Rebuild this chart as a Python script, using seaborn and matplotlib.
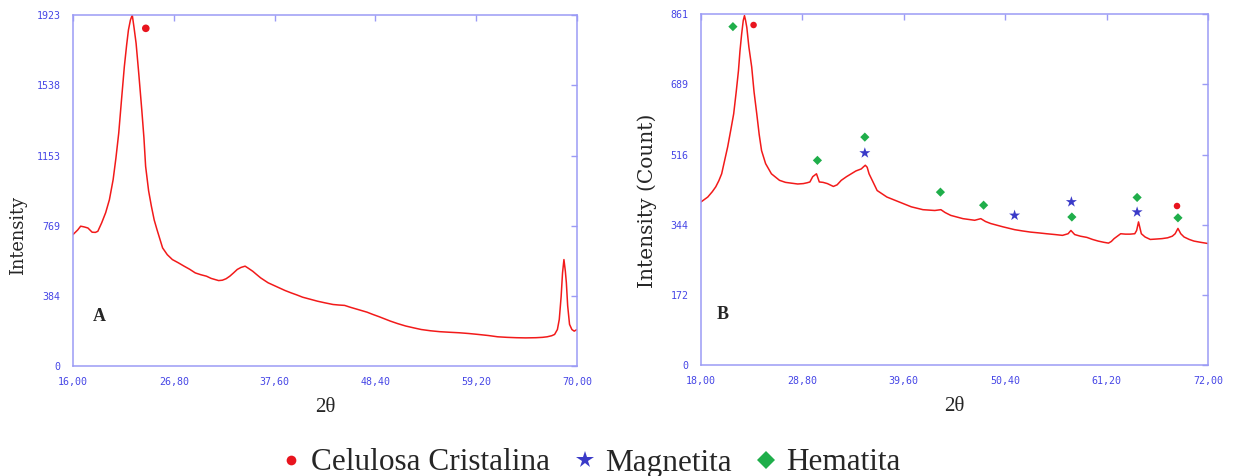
import numpy as np
import pandas as pd
import matplotlib
matplotlib.use("Agg")
import matplotlib.pyplot as plt
from matplotlib.lines import Line2D
import matplotlib.transforms as mtransforms
import seaborn as sns

# ---------------- data ----------------
a_theta = [16.0, 16.5, 16.82, 17.2, 17.6, 18.05, 18.4, 18.66, 19.07, 19.5, 19.9, 20.3, 20.6, 20.9,
           21.2, 21.5, 21.75, 21.94, 22.15, 22.35, 22.55, 22.76, 23.05, 23.37, 23.6, 23.78, 24.1,
           24.4, 24.7, 25.0, 25.6, 26.1, 26.65, 27.3, 27.9, 28.5, 29.1, 29.7, 30.3, 30.8, 31.2, 31.6,
           32.0, 32.4, 32.8, 33.2, 33.6, 34.0, 34.44, 34.8, 35.26, 35.7, 36.1, 36.9, 37.5, 38.1,
           38.7, 39.35, 40.0, 40.6, 41.4, 42.2, 43.0, 43.86, 44.5, 45.1, 45.7, 46.3, 46.9, 47.5,
           48.1, 48.8, 49.4, 50.0, 50.8, 51.65, 52.5, 53.3, 54.3, 55.3, 56.3, 57.4, 58.4, 59.4,
           60.5, 61.5, 62.5, 63.5, 64.5, 65.6, 66.3, 66.8, 67.3, 67.6, 67.9, 68.1, 68.3, 68.45,
           68.6, 68.75, 68.86, 69.0, 69.2, 69.45, 69.7, 70.0]
a_int = [720, 745, 766, 762, 756, 733, 732, 738, 784, 840, 911, 1021, 1140, 1276,
         1460, 1640, 1760, 1841, 1895, 1923, 1850, 1768, 1600, 1403, 1250, 1094, 960,
         875, 800, 747, 647, 610, 583, 565, 547, 530, 510, 500, 492, 480, 474, 468,
         470, 478, 492, 510, 529, 540, 547, 535, 519, 500, 483, 456, 442, 428,
         414, 401, 389, 377, 366, 355, 346, 337, 334, 332, 322, 313, 304, 295,
         283, 270, 258, 246, 232, 219, 209, 200, 193, 188, 185, 182, 178, 173,
         167, 160, 157, 155, 154, 155, 157, 160, 166, 173, 200, 255, 380, 510,
         583, 520, 456, 330, 228, 200, 191, 200]

b_theta = [18.0, 18.72, 19.2, 19.57, 19.9, 20.2, 20.5, 20.84, 21.2, 21.48, 21.75, 21.99, 22.15,
           22.33, 22.5, 22.63, 22.75, 22.88, 23.1, 23.4, 23.65, 23.94, 24.2, 24.45, 24.88, 25.5,
           26.36, 27.0, 27.64, 28.3, 28.9, 29.3, 29.6, 29.9, 30.3, 30.6, 31.0, 31.46, 32.1,
           32.5, 32.94, 33.5, 34.0, 34.5, 35.07, 35.3, 35.5, 35.7, 35.9, 36.3, 36.76, 37.8,
           39.1, 40.4, 41.64, 42.9, 43.55, 44.0, 44.6, 45.9, 47.15, 47.8, 48.3, 48.86, 50.15,
           51.4, 52.2, 53.1, 54.0, 54.8, 55.7, 56.5, 57.1, 57.4, 57.8, 58.4, 59.1, 59.7, 60.3,
           60.9, 61.4, 61.7, 62.0, 62.7, 63.2, 63.7, 64.2, 64.4, 64.6, 64.9, 65.3, 65.85, 66.5,
           67.1, 67.7, 68.2, 68.5, 68.8, 69.1, 69.45, 70.0, 70.5, 71.2, 72.0]
b_int = [400, 412, 425, 437, 452, 469, 500, 535, 580, 616, 670, 722, 770,
         812, 845, 857, 845, 828, 780, 731, 670, 616, 565, 526, 494, 469,
         453, 448, 446, 444, 445, 447, 449, 462, 469, 449, 448, 445, 438,
         442, 453, 462, 469, 476, 481, 486, 490, 485, 469, 450, 428, 412,
         400, 388, 381, 379, 381, 374, 367, 359, 355, 359, 352, 347, 339,
         332, 329, 326, 324, 322, 320, 318, 322, 330, 320, 316, 313, 308, 304,
         301, 299, 303, 310, 322, 321, 321, 322, 330, 351, 322, 314, 308, 309,
         310, 312, 316, 322, 335, 322, 314, 308, 304, 301, 298]

# peak markers (phase identification)
a_cel_x, a_cel_y = [23.8], [1850]
b_cel_x, b_cel_y = [23.6, 68.7], [834, 390]
b_mag_x, b_mag_y = [35.45, 51.4, 57.45, 64.45], [520, 367, 400, 375]
b_hem_x = [21.4, 30.4, 35.45, 43.5, 48.1, 57.5, 64.45, 68.8]
b_hem_y = [830, 502, 559, 424, 392, 363, 411, 361]

a_xticks = [16.0, 26.8, 37.6, 48.4, 59.2, 70.0]
a_yticks = [0, 384, 769, 1153, 1538, 1923]
b_xticks = [18.0, 28.8, 39.6, 50.4, 61.2, 72.0]
b_yticks = [0, 172, 344, 516, 689, 861]

legend_labels = ["Celulosa Cristalina", "Magnetita", "Hematita"]

# ---------------- style ----------------
sns.set_theme(style="white")
plt.rcParams["font.family"] = ["DejaVu Sans"]
SERIF = "Liberation Serif"
YSERIF = "DejaVu Serif"
MONO = "DejaVu Sans Mono"
SPINE = "#9b9bf5"
TICKC = "#4646e6"
CURVE = "#f21a1a"
RED, BLUE, GREEN = "#e8141e", "#3a3ac8", "#1fae4a"

W, H = 1243, 476
fig = plt.figure(figsize=(W / 100, H / 100), dpi=100)

def make_axes(left_px, right_px, top_px, bottom_px):
    return fig.add_axes([left_px / W, 1 - bottom_px / H,
                         (right_px - left_px) / W, (bottom_px - top_px) / H])

axA = make_axes(73, 577, 15, 366)
axB = make_axes(701, 1208, 14, 365)

def style_axes(ax, xt, yt, ylabel, ylab_size, ylab_xy, letter, letter_xy):
    ax.set_xlim(xt[0], xt[-1])
    ax.set_ylim(yt[0], yt[-1])
    ax.set_xticks(xt)
    ax.set_yticks(yt)
    ax.set_xticklabels([f"{v:.2f}".replace(".", ",") for v in xt],
                       fontfamily=MONO, fontsize=7.2, color=TICKC)
    ax.set_yticklabels([str(v) for v in yt], fontfamily=MONO, fontsize=7.2, color=TICKC)
    offset = mtransforms.ScaledTranslation(7 / 100, 0, fig.dpi_scale_trans)
    for lab in ax.get_xticklabels():
        lab.set_transform(lab.get_transform() + offset)
    ax.tick_params(axis="both", which="both", direction="in", length=4, width=1,
                   color=SPINE, top=True, right=True, pad=9)
    ax.tick_params(axis="x", pad=8)
    for s in ax.spines.values():
        s.set_color(SPINE)
        s.set_linewidth(1.1)
        s.set_visible(True)
    ax.set_xlabel("2θ", fontfamily=SERIF, fontsize=15, labelpad=8)
    ax.set_ylabel(ylabel, fontfamily=YSERIF, fontsize=ylab_size)
    ax.yaxis.set_label_coords(*ylab_xy)
    ax.text(letter_xy[0], letter_xy[1], letter, transform=ax.transAxes,
            fontfamily=SERIF, fontsize=13, fontweight="bold", va="center", ha="left")
    ax.grid(False)
    ax.set_facecolor("white")

dfA = pd.DataFrame({"theta": a_theta, "I": a_int})
dfB = pd.DataFrame({"theta": b_theta, "I": b_int})

sns.lineplot(data=dfA, x="theta", y="I", ax=axA, color=CURVE, linewidth=1.1,
             sort=False, estimator=None)
sns.lineplot(data=dfB, x="theta", y="I", ax=axB, color=CURVE, linewidth=1.1,
             sort=False, estimator=None)

sns.scatterplot(x=a_cel_x, y=a_cel_y, ax=axA, color=RED, marker="o", s=30,
                edgecolor="none", zorder=5)
sns.scatterplot(x=b_cel_x, y=b_cel_y, ax=axB, color=RED, marker="o", s=22,
                edgecolor="none", zorder=5)
sns.scatterplot(x=b_mag_x, y=b_mag_y, ax=axB, color=BLUE, marker="*", s=70,
                edgecolor="none", zorder=5)
sns.scatterplot(x=b_hem_x, y=b_hem_y, ax=axB, color=GREEN, marker="D", s=22,
                edgecolor="none", zorder=5)

style_axes(axA, a_xticks, a_yticks, "Intensity", 12.8, (-0.092, 0.373), "A", (0.04, 0.14))
style_axes(axB, b_xticks, b_yticks, "Intensity (Count)", 14.5, (-0.087, 0.467), "B", (0.03, 0.145))

handles = [
    Line2D([], [], linestyle="none", marker="o", color=RED, markersize=7, markeredgewidth=0),
    Line2D([], [], linestyle="none", marker="*", color=BLUE, markersize=13, markeredgewidth=0),
    Line2D([], [], linestyle="none", marker="D", color=GREEN, markersize=9, markeredgewidth=0),
]
fig.legend(handles, legend_labels, loc="center", bbox_to_anchor=(591 / W, 1 - 463 / H),
           ncol=3, frameon=False, handlelength=0.6, handletextpad=0.35, columnspacing=0.8,
           prop={"family": SERIF, "size": 22.5})

fig.savefig("out.png", dpi=100, facecolor="white")
